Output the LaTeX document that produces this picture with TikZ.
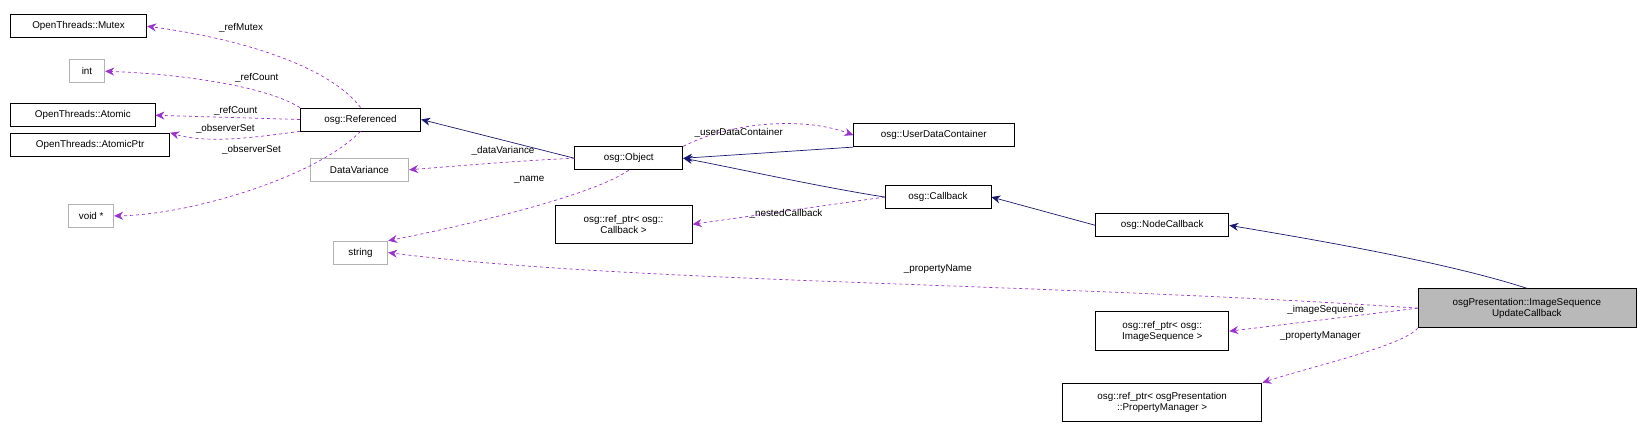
\documentclass[tikz,border=0pt]{standalone}
\usepackage{fontspec}
\setmainfont{Liberation Sans}
\usetikzlibrary{arrows.meta}
\definecolor{purp}{HTML}{9A32CD}
\definecolor{navy}{HTML}{191970}
\begin{document}
\begin{tikzpicture}[x=1pt,y=-1pt,scale=1.048,every node/.append style={transform shape},
 box/.style={draw=black,line width=0.7pt,inner sep=2pt,align=center,font=\fontsize{9.4}{10.5}\selectfont},
 gbox/.style={box,draw=gray!60},
 use/.style={draw=purp,dashed,line width=0.7pt,-{Stealth[length=9pt,width=8pt]}},
 inh/.style={draw=navy,line width=0.7pt,-{Stealth[length=9pt,width=8pt]}},
 lab/.style={font=\fontsize{9.4}{10.5}\selectfont,inner sep=1pt}]
\useasboundingbox (0,0) rectangle (1567.8,407.4);
\node[box,minimum width=130,minimum height=22] (mutex) at (75,25) {OpenThreads::Mutex};
\node[gbox,minimum width=34,minimum height=22] (int) at (83,68) {int};
\node[box,minimum width=138,minimum height=22] (atomic) at (79,110) {OpenThreads::Atomic};
\node[box,minimum width=152,minimum height=22] (aptr) at (86,138) {OpenThreads::AtomicPtr};
\node[gbox,minimum width=43,minimum height=22] (void) at (87,206) {void *};
\node[box,minimum width=115,minimum height=22] (ref) at (344,114) {osg::Referenced};
\node[gbox,minimum width=94,minimum height=22] (dv) at (343,162) {DataVariance};
\node[gbox,minimum width=52,minimum height=22] (str) at (344,241) {string};
\node[box,minimum width=103,minimum height=22] (obj) at (600,151) {osg::Object};
\node[box,minimum width=153,minimum height=22] (udc) at (891,129) {osg::UserDataContainer};
\node[box,minimum width=131,minimum height=37] (rcb) at (595,214) {osg::ref\_ptr< osg::\\Callback >};
\node[box,minimum width=101,minimum height=22] (cb) at (895,188) {osg::Callback};
\node[box,minimum width=127,minimum height=22] (ncb) at (1109,215) {osg::NodeCallback};
\node[box,fill=gray!55,minimum width=208,minimum height=37] (isuc) at (1457,294) {osgPresentation::ImageSequence\\UpdateCallback};
\node[box,minimum width=127,minimum height=37] (ris) at (1109,316) {osg::ref\_ptr< osg::\\ImageSequence >};
\node[box,minimum width=190,minimum height=37] (rpm) at (1109,384) {osg::ref\_ptr< osgPresentation\\::PropertyManager >};

\draw[use] (ref.north) .. controls (320,70) and (250,40) .. (mutex.east);
\node[lab] at (230,27) {\_refMutex};
\draw[use] (ref.north west) .. controls (250,80) and (160,70) .. (int.east);
\node[lab] at (245,74) {\_refCount};
\draw[use] (ref.west) -- (atomic.east);
\node[lab] at (225,106) {\_refCount};
\draw[use] (ref.south west) .. controls (250,130) and (200,138) .. (aptr.north east);
\node[lab] at (215,123) {\_observerSet};
\draw[use] (ref.south) .. controls (300,170) and (180,205) .. (void.east);
\node[lab] at (240,143) {\_observerSet};
\draw[inh] (obj.west) -- (ref.east);
\draw[use] (obj.west) .. controls (500,153) and (440,158) .. (dv.east);
\node[lab] at (480,144) {\_dataVariance};
\draw[use] (obj.south) .. controls (560,190) and (420,220) .. (str.north east);
\node[lab] at (505,172) {\_name};
\draw[inh] (udc.south west) -- (obj.east);
\draw[use] (obj.north east) .. controls (700,115) and (770,112) .. (udc.west);
\node[lab] at (705,127) {\_userDataContainer};
\draw[inh] (cb.west) .. controls (780,178) and (700,160) .. (obj.east);
\draw[use] (cb.west) -- (rcb.east);
\node[lab] at (750,204) {\_nestedCallback};
\draw[inh] (ncb.west) -- (cb.east);
\draw[inh] (isuc.north) .. controls (1380,250) and (1250,228) .. (ncb.east);
\draw[use] (isuc.west) .. controls (1000,270) and (600,270) .. (str.east);
\node[lab] at (895,257) {\_propertyName};
\draw[use] (isuc.west) -- (ris.east);
\node[lab] at (1265,296) {\_imageSequence};
\draw[use] (isuc.south west) .. controls (1340,330) and (1250,350) .. (rpm.north east);
\node[lab] at (1260,321) {\_propertyManager};
\end{tikzpicture}
\end{document}
